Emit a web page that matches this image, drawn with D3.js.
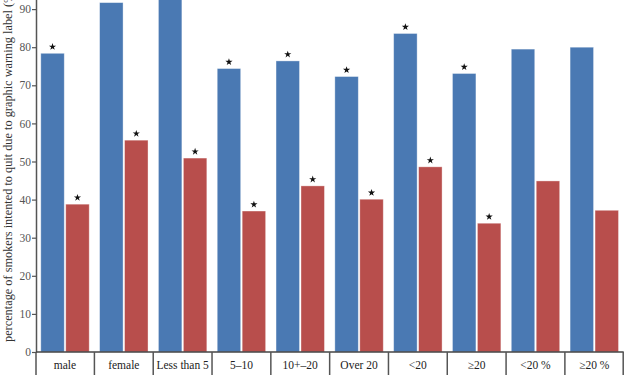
<!DOCTYPE html>
<html>
<head>
<meta charset="utf-8">
<script src="https://cdn.jsdelivr.net/npm/d3@7"></script>
<style>
  body { margin: 0; background: #fff; }
  svg { display: block; font-family: "Liberation Serif", "DejaVu Serif", serif; }
</style>
</head>
<body>
<div id="chart"></div>
<script>
const categories = ["male", "female", "Less than 5", "5\u201310", "10+\u201320", "Over 20", "<20", "\u226520", "<20 %", "\u226520 %"];
const seriesNames = ["blue", "red"];
const blueValues = [78.4, 91.7, 97, 74.4, 76.4, 72.3, 83.6, 73.1, 79.5, 80.0];
const redValues = [38.8, 55.6, 50.9, 37.0, 43.6, 40.1, 48.6, 33.8, 44.9, 37.2];
// significance stars: [blue, red]
const blueStar = [1, 1, 1, 1, 1, 1, 1, 1, 0, 0];
const redStar = [1, 1, 1, 1, 1, 1, 1, 1, 0, 0];
const yTicks = [0, 10, 20, 30, 40, 50, 60, 70, 80, 90];
const yLabel = "percentage of smokers intented to quit due to graphic warning label (%)";

const W = 625, H = 375;
const colors = { blue: "#4a79b3", red: "#b84e4c" };

const svg = d3.select("#chart")
    .append("svg")
    .attr("width", W)
    .attr("height", H);

const x = d3.scaleBand()
    .domain(categories)
    .range([35.6, 623.7])
    .padding(0);

const xInner = d3.scaleBand()
    .domain(seriesNames)
    .range([5.2, x.bandwidth() - 5.2])
    .paddingInner(0.06);

// top of the plot is cropped in the original, so the scale runs past the window
const y = d3.scaleLinear()
    .domain([0, 100])
    .range([352, 352 - 100 * 3.81]);

const rows = categories.map((c, i) => ({
    cat: c,
    vals: [
        { s: "blue", v: blueValues[i], star: blueStar[i] },
        { s: "red", v: redValues[i], star: redStar[i] }
    ]
}));

const groups = svg.append("g")
    .selectAll("g")
    .data(rows)
    .join("g")
    .attr("transform", d => `translate(${x(d.cat)},0)`);

groups.selectAll("rect")
    .data(d => d.vals)
    .join("rect")
    .attr("x", d => xInner(d.s))
    .attr("width", xInner.bandwidth())
    .attr("y", d => y(d.v))
    .attr("height", d => y(0) - y(d.v))
    .attr("fill", d => colors[d.s])
    .attr("stroke", "#fff")
    .attr("stroke-opacity", 0.45)
    .attr("stroke-width", 0.8);

groups.selectAll("path.star")
    .data(d => d.vals.filter(v => v.star))
    .join("path")
    .attr("class", "star")
    .attr("transform", d => `translate(${xInner(d.s) + xInner.bandwidth() / 2},${y(d.v) - 6.5})`)
    .attr("d", d3.symbol(d3.symbolStar, 16))
    .attr("fill", "#111");

// y axis
const yAxis = svg.append("g")
    .attr("transform", "translate(36,0)")
    .call(d3.axisLeft(y).tickValues(yTicks).tickSize(4).tickSizeOuter(0));
yAxis.select(".domain").attr("stroke", "#555").attr("stroke-width", 1.5);
yAxis.selectAll(".tick line").attr("stroke", "#555").attr("stroke-width", 1.2);
yAxis.selectAll(".tick text")
    .attr("fill", "#555")
    .attr("font-size", 11.5)
    .attr("font-family", "Liberation Serif, serif")
    .attr("x", -5);

// extend y axis line below the baseline
svg.append("line")
    .attr("x1", 36).attr("x2", 36)
    .attr("y1", 352).attr("y2", H)
    .attr("stroke", "#555").attr("stroke-width", 1.5);

// baseline
svg.append("line")
    .attr("x1", 36).attr("x2", x.range()[1])
    .attr("y1", y(0)).attr("y2", y(0))
    .attr("stroke", "#444").attr("stroke-width", 1.5);

// category separators
svg.append("g")
    .selectAll("line")
    .data(categories.slice(1).map(c => x(c)).concat([x.range()[1] - 0.5]))
    .join("line")
    .attr("x1", d => d).attr("x2", d => d)
    .attr("y1", y(0)).attr("y2", H)
    .attr("stroke", "#555").attr("stroke-width", 1.5);

// category labels
svg.append("g")
    .selectAll("text")
    .data(categories)
    .join("text")
    .attr("x", d => x(d) + x.bandwidth() / 2)
    .attr("y", 369)
    .attr("text-anchor", "middle")
    .attr("font-size", 11.5)
    .attr("fill", "#222")
    .text(d => d);

// y axis title
svg.append("text")
    .attr("transform", "translate(12,342) rotate(-90)")
    .attr("text-anchor", "start")
    .attr("font-size", 12.3)
    .attr("fill", "#333")
    .text(yLabel);
</script>
</body>
</html>
